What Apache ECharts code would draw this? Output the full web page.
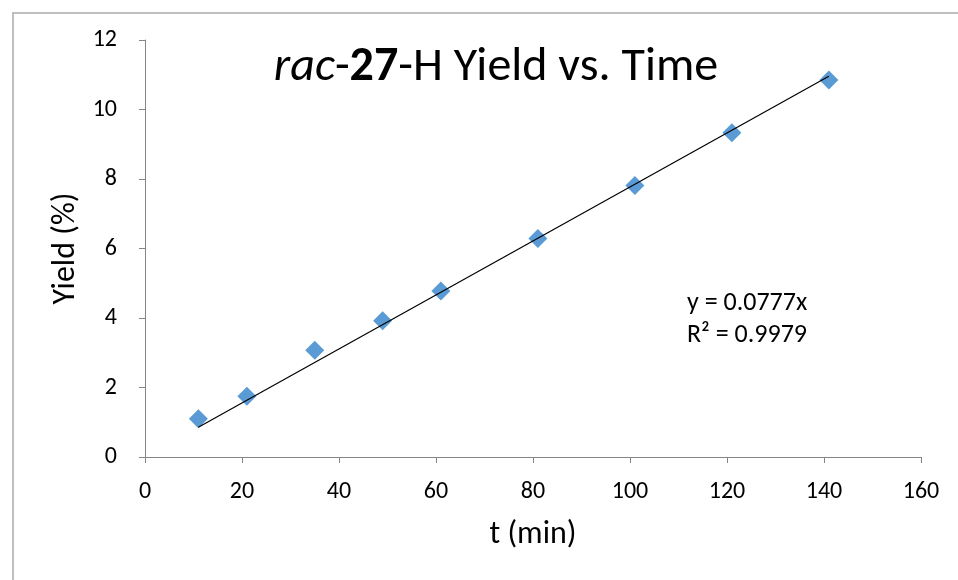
<!DOCTYPE html>
<html>
<head>
<meta charset="utf-8">
<script src="https://cdn.jsdelivr.net/npm/echarts@6/dist/echarts.min.js"></script>
<style>html,body{margin:0;padding:0;background:#fff;}#c{width:958px;height:580px;}</style>
</head>
<body>
<div id="c"></div>
<script>
var timeMin = [11, 21, 35, 49, 61, 81, 101, 121, 141];
var yieldPct = [1.10, 1.75, 3.07, 3.92, 4.78, 6.29, 7.81, 9.33, 10.85];
var trendX = [11, 141];
var trendY = [0.855, 10.956];
var xTicks = [0, 20, 40, 60, 80, 100, 120, 140, 160];
var yTicks = [0, 2, 4, 6, 8, 10, 12];
var eqLines = ['y = 0.0777x', 'R² = 0.9979'];

var FONT = 'Carlito, Lato, "Liberation Sans", sans-serif';
var chart = echarts.init(document.getElementById('c'), null, {renderer: 'canvas'});
var pts = timeMin.map(function (t, i) { return [t, yieldPct[i]]; });
var trend = trendX.map(function (t, i) { return [t, trendY[i]]; });
var axisCol = '#868686';

chart.setOption({
  animation: false,
  backgroundColor: '#ffffff',
  textStyle: {fontFamily: FONT},
  grid: {left: 145, right: 37, top: 40, bottom: 123},
  title: {
    text: '{i|rac}{n|-}{b|27}{n|-H Yield vs. Time}',
    left: 491, top: 39, textAlign: 'center',
    textStyle: {
      fontWeight: 'normal',
      rich: {
        i: {fontFamily: FONT, fontSize: 48, fontStyle: 'italic', fontWeight: 'normal', color: '#000'},
        n: {fontFamily: FONT, fontSize: 48, fontWeight: 'normal', color: '#000'},
        b: {fontFamily: FONT, fontSize: 48, fontWeight: 'bold', color: '#000'}
      }
    }
  },
  xAxis: {
    type: 'value', min: xTicks[0], max: xTicks[xTicks.length - 1], interval: 20,
    name: 't (min)', nameLocation: 'middle', nameGap: 62,
    nameTextStyle: {fontFamily: FONT, fontSize: 32, color: '#000'},
    axisLine: {show: true, lineStyle: {color: axisCol, width: 1}},
    axisTick: {show: true, inside: false, length: 6, lineStyle: {color: axisCol}},
    axisLabel: {fontFamily: FONT, fontSize: 24, color: '#000', margin: 23},
    splitLine: {show: false}
  },
  yAxis: {
    type: 'value', min: yTicks[0], max: yTicks[yTicks.length - 1], interval: 2,
    name: 'Yield (%)', nameLocation: 'middle', nameGap: 61,
    nameTextStyle: {fontFamily: FONT, fontSize: 32, color: '#000'},
    axisLine: {show: true, lineStyle: {color: axisCol, width: 1}},
    axisTick: {show: true, inside: false, length: 6, lineStyle: {color: axisCol}},
    axisLabel: {fontFamily: FONT, fontSize: 24, color: '#000', margin: 28},
    splitLine: {show: false}
  },
  graphic: [
    {type: 'rect', left: 10.5, top: 10.5, shape: {width: 1000, height: 600},
     style: {fill: 'none', stroke: '#bfbfbf', lineWidth: 2}, silent: true, z: -1},
    {type: 'text', left: 687, top: 287,
     style: {text: eqLines.join('\n'), font: '26px ' + FONT, fill: '#000', lineHeight: 32}}
  ],
  series: [
    {type: 'line', data: trend, symbol: 'none', lineStyle: {color: '#000', width: 1.2}, z: 3},
    {type: 'scatter', data: pts, symbol: 'diamond', symbolSize: [19, 19],
     itemStyle: {color: '#5b9bd5', opacity: 1}, z: 2}
  ]
});
</script>
</body>
</html>
